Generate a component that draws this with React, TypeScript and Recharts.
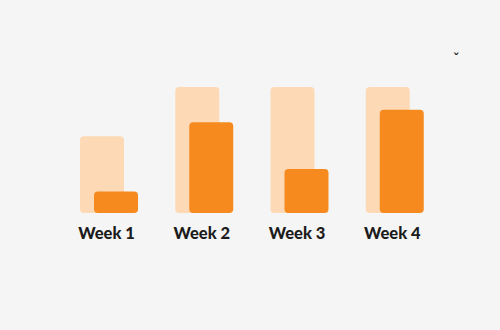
import { BarChart, Bar, XAxis, YAxis } from "recharts";

const weeks = ["Week 1", "Week 2", "Week 3", "Week 4"];
const targetValues = [61, 100, 100, 100];
const actualValues = [17, 72, 35, 82];

const LIGHT = "#fdd9b6";
const ORANGE = "#f68a1f";

export default function App() {
  const data = weeks.map((week, i) => ({
    week,
    target: targetValues[i],
    actual: actualValues[i],
  }));

  return (
    <div
      style={{
        position: "fixed",
        top: 0,
        left: 0,
        width: 500,
        height: 330,
        background: "#f5f5f5",
      }}
    >
      {/* dropdown caret in the corner */}
      <span
        style={{
          position: "absolute",
          left: 453,
          top: 52,
          fontSize: 13,
          fontFamily: "DejaVu Sans",
          fontWeight: 700,
          color: "#222",
          lineHeight: 1,
        }}
      >
        ˇ
      </span>
      <BarChart
        width={500}
        height={330}
        data={data}
        margin={{ top: 87, right: 58, bottom: 87, left: 61 }}
        barSize={44}
        barGap={-30}
      >
        <XAxis
          dataKey="week"
          axisLine={false}
          tickLine={false}
          height={30}
          tickMargin={8}
          dx={-2}
          tick={{
            fill: "#1c1c1c",
            fontSize: 16.5,
            fontWeight: 900,
            fontFamily: "Lato",
          }}
        />
        <YAxis hide domain={[0, 100]} />
        <Bar dataKey="target" fill={LIGHT} radius={[4, 4, 4, 4]} isAnimationActive={false} />
        <Bar dataKey="actual" fill={ORANGE} radius={[4, 4, 4, 4]} isAnimationActive={false} />
      </BarChart>
    </div>
  );
}
